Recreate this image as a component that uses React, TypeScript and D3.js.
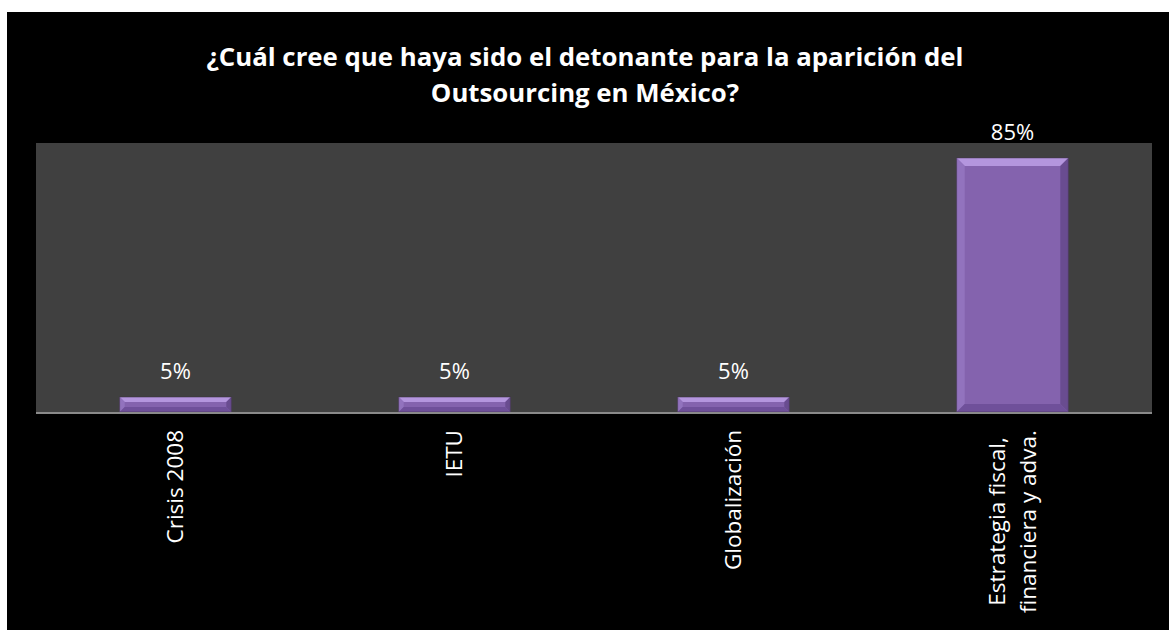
import React, { useEffect, useRef } from "react";
import * as d3 from "d3";

const titleLines = [
  "¿Cuál cree que haya sido el detonante para la aparición del",
  "Outsourcing en México?",
];
const categories = ["Crisis 2008", "IETU", "Globalización", "Estrategia fiscal, financiera y adva."];
const categoryLines = [["Crisis 2008"], ["IETU"], ["Globalización"], ["Estrategia fiscal,", "financiera y adva."]];
const values = [0.05, 0.05, 0.05, 0.85];
const yMax = 0.9;

const W = 1169;
const H = 630;

export default function App() {
  const ref = useRef<SVGSVGElement | null>(null);

  useEffect(() => {
    const svg = d3.select(ref.current);
    svg.selectAll("*").remove();

    svg.append("rect").attr("width", W).attr("height", H).attr("fill", "#ffffff");
    svg.append("rect").attr("x", 7).attr("y", 12).attr("width", W - 7).attr("height", H - 12).attr("fill", "#000000");

    // Title
    const title = svg
      .append("text")
      .attr("text-anchor", "middle")
      .attr("fill", "#ffffff")
      .attr("font-family", "'Open Sans', sans-serif")
      .attr("font-weight", "bold")
      .attr("font-size", 25.8);
    titleLines.forEach((t, i) => {
      title.append("tspan").attr("x", 585).attr("y", 66 + i * 36).text(t);
    });

    const plot = { left: 36, right: 1152, top: 143, bottom: 412 };

    svg
      .append("rect")
      .attr("x", plot.left)
      .attr("y", plot.top)
      .attr("width", plot.right - plot.left)
      .attr("height", plot.bottom - plot.top)
      .attr("fill", "#404040");

    const x = d3.scaleBand<string>().domain(categories).range([plot.left, plot.right]).paddingInner(0.6).paddingOuter(0.3);
    const y = d3.scaleLinear().domain([0, yMax]).range([plot.bottom, plot.top]);

    const bars = svg.append("g");
    categories.forEach((c, i) => {
      const x0 = x(c)!;
      const w = x.bandwidth();
      const y0 = y(values[i]);
      const y1 = y(0);
      const h = y1 - y0;
      const b = Math.min(8, h / 3);
      const g = bars.append("g");
      g.append("rect").attr("x", x0).attr("y", y0).attr("width", w).attr("height", h).attr("fill", "#8463AE");
      const poly = (pts: [number, number][], fill: string) =>
        g.append("polygon").attr("points", pts.map((p) => p.join(",")).join(" ")).attr("fill", fill);
      poly([[x0, y0], [x0 + w, y0], [x0 + w - b, y0 + b], [x0 + b, y0 + b]], "#B496DE");
      poly([[x0, y0], [x0 + b, y0 + b], [x0 + b, y1 - b], [x0, y1]], "#9273BE");
      poly([[x0 + w, y0], [x0 + w, y1], [x0 + w - b, y1 - b], [x0 + w - b, y0 + b]], "#694C90");
      poly([[x0, y1], [x0 + b, y1 - b], [x0 + w - b, y1 - b], [x0 + w, y1]], "#6F509A");
      g.append("rect")
        .attr("x", x0)
        .attr("y", y0)
        .attr("width", w)
        .attr("height", h)
        .attr("fill", "none")
        .attr("stroke", "#3a2f45")
        .attr("stroke-width", 0.8)
        .attr("stroke-opacity", 0.6);

      svg
        .append("text")
        .attr("x", x0 + w / 2)
        .attr("y", y0 - 18)
        .attr("text-anchor", "middle")
        .attr("fill", "#ffffff")
        .attr("font-family", "'Open Sans', sans-serif")
        .attr("font-size", 22)
        .text(d3.format(".0%")(values[i]));
    });

    svg
      .append("line")
      .attr("x1", plot.left)
      .attr("x2", plot.right)
      .attr("y1", plot.bottom + 1)
      .attr("y2", plot.bottom + 1)
      .attr("stroke", "#8a8a8a")
      .attr("stroke-width", 2);

    const labelTop = 430;
    categories.forEach((c, i) => {
      const lines = categoryLines[i];
      const cx = x(c)! + x.bandwidth() / 2;
      const lineGap = 31;
      const texts = lines.map((ln, j) => {
        const off = (j - (lines.length - 1) / 2) * lineGap;
        return svg
          .append("text")
          .attr("transform", `translate(${cx + off},0) rotate(-90)`)
          .attr("dy", "0.35em")
          .attr("fill", "#ffffff")
          .attr("font-family", "'Open Sans', sans-serif")
          .attr("font-size", 22.5)
          .attr("text-anchor", "middle")
          .text(ln);
      });
      const lens = texts.map((t) => (t.node() as SVGTextElement).getComputedTextLength());
      const maxLen = Math.max(...lens);
      const centerY = labelTop + maxLen / 2;
      texts.forEach((t) => t.attr("x", -centerY));
    });
  }, []);

  return (
    <svg
      ref={ref}
      width={W}
      height={H}
      style={{ position: "absolute", left: 0, top: 0, display: "block" }}
    />
  );
}
